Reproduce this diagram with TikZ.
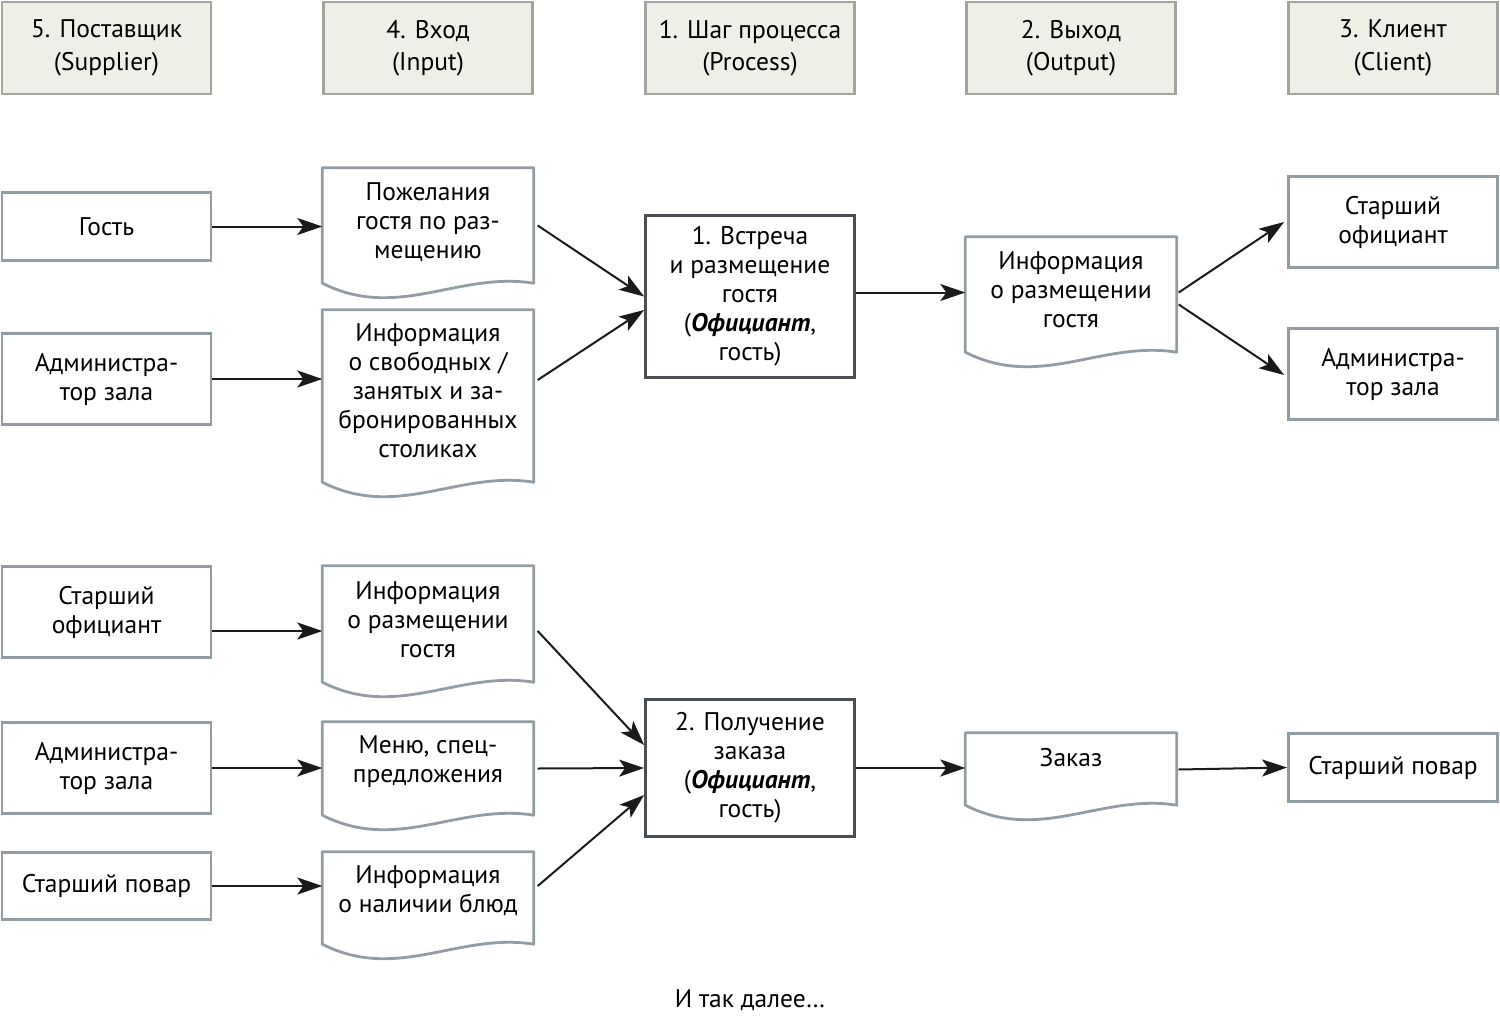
\documentclass[tikz,border=0pt]{standalone}
\usepackage{fontspec}
\setmainfont{PT Sans}
\usetikzlibrary{arrows.meta,calc}
\definecolor{hdrfill}{HTML}{EFEEE7}
\definecolor{hdrline}{HTML}{A3A3A0}
\definecolor{boxline}{HTML}{929DA3}
\definecolor{procline}{HTML}{4A4F53}
\definecolor{arrowc}{HTML}{1A1A1A}
\tikzset{
  txt/.style={font=\fontsize{25.5}{29}\selectfont, align=center, text=black, inner sep=0pt},
  hdr/.style={txt, font=\fontsize{25.5}{32.5}\selectfont, draw=hdrline, fill=hdrfill, line width=2.6pt, minimum width=209pt, minimum height=92pt},
  sbox/.style={txt, draw=boxline, line width=2.8pt, minimum width=209pt},
  pbox/.style={txt, draw=procline, line width=2.8pt, minimum width=209pt},
  docn/.style={font=\fontsize{25.5}{29}\selectfont, text=black, inner sep=0pt, minimum width=211pt},
  docline/.style={draw=boxline, line width=2.8pt, line join=round},
  arr/.style={draw=arrowc, line width=2pt, -{Stealth[length=25pt,width=17pt,inset=6pt]}},
}
% #1 name, #2 x, #3 y, #4 rect height, #5 text, #6 raise of text
\newcommand\docnode[6]{%
  \node[docn, minimum height=#4] (#1) at (#2,#3)
    {\raisebox{#6}[0pt][0pt]{\begin{tabular}{@{}c@{}}#5\end{tabular}}};
  \draw[docline] (#1.south west) -- (#1.north west) -- (#1.north east) -- (#1.south east)
    .. controls ([xshift=-75pt,yshift=12pt]#1.south east) and ([xshift=75pt,yshift=-38pt]#1.south west) .. (#1.south west) -- cycle;
}
\begin{document}
\begin{tikzpicture}[x=1pt,y=-1pt]
\useasboundingbox (0,0) rectangle (1500,1020);
% headers
\node[hdr] (h1) at (106.5,48) {5. Поставщик\\(Supplier)};
\node[hdr] (h2) at (428,48) {4. Вход\\(Input)};
\node[hdr] (h3) at (750,48) {1. Шаг процесса\\(Process)};
\node[hdr] (h4) at (1071,48) {2. Выход\\(Output)};
\node[hdr] (h5) at (1393,48) {3. Клиент\\(Client)};
% block 1
\node[sbox, minimum height=68pt] (s1) at (106.5,226.5) {Гость};
\node[sbox, minimum height=91pt] (s2) at (106.5,379) {Администра-\\тор зала};
\docnode{d1}{428}{225.5}{115pt}{Пожелания\\гостя по раз-\\мещению}{-4pt}
\docnode{d2}{428}{396}{172pt}{Информация\\о свободных /\\занятых и за-\\бронированных\\столиках}{-4pt}
\node[pbox, minimum height=162pt] (p1) at (750,296.5) {1. Встреча\\и размещение\\гостя\\(\textbf{\textit{Официант}},\\гость)};
\docnode{o1}{1071}{294.5}{115pt}{Информация\\о размещении\\гостя}{-4pt}
\node[sbox, minimum height=91pt] (c1) at (1393,222) {Старший\\официант};
\node[sbox, minimum height=91pt] (c2) at (1393,374) {Администра-\\тор зала};
% block 2
\node[sbox, minimum height=91pt] (s3) at (106.5,612) {Старший\\официант};
\node[sbox, minimum height=91pt] (s4) at (106.5,768) {Администра-\\тор зала};
\node[sbox, minimum height=67pt] (s5) at (106.5,886) {Старший повар};
\docnode{d3}{428}{624}{116pt}{Информация\\о размещении\\гостя}{-5pt}
\docnode{d4}{428}{768.5}{93pt}{Меню, спец-\\предложения}{0pt}
\docnode{d5}{428}{898}{92pt}{Информация\\о наличии блюд}{0pt}
\node[pbox, minimum height=137pt] (p2) at (750,768) {2. Получение\\заказа\\(\textbf{\textit{Официант}},\\гость)};
\docnode{o2}{1071}{769}{72pt}{Заказ}{2pt}
\node[sbox, minimum height=68pt] (c3) at (1393,767.5) {Старший повар};
\node[txt] (etc) at (750,1000) {И так далее…};
% arrows block 1
\draw[arr] (s1.east) -- (s1.east -| d1.west);
\draw[arr] (s2.east) -- (s2.east -| d2.west);
\draw[arr] ([xshift=4pt]d1.east) -- (p1.west);
\draw[arr] ([xshift=4pt,yshift=16pt]d2.east) -- ([yshift=-13.5pt]p1.west);
\draw[arr] ([yshift=4pt]p1.east) -- ([yshift=4pt]p1.east -| o1.west);
\draw[arr] ([xshift=2pt,yshift=2pt]o1.east) -- ([xshift=-3pt]c1.west);
\draw[arr] ([xshift=2pt,yshift=-10pt]o1.east) -- ([xshift=-3pt,yshift=-1pt]c2.west);
% arrows block 2
\draw[arr] ([yshift=-19pt]s3.east) -- ([yshift=-19pt]s3.east -| d3.west);
\draw[arr] (s4.east) -- (s4.east -| d4.west);
\draw[arr] (s5.east) -- (s5.east -| d5.west);
\draw[arr] ([xshift=4pt,yshift=-7pt]d3.east) -- ([yshift=23pt]p2.west);
\draw[arr] ([xshift=4pt]d4.east) -- (p2.west);
\draw[arr] ([xshift=4pt,yshift=12pt]d5.east) -- ([yshift=-27pt]p2.west);
\draw[arr] (p2.east) -- (p2.east -| o2.west);
\draw[arr] ([xshift=2pt,yshift=-0.5pt]o2.east) -- (c3.west);
\end{tikzpicture}
\end{document}
